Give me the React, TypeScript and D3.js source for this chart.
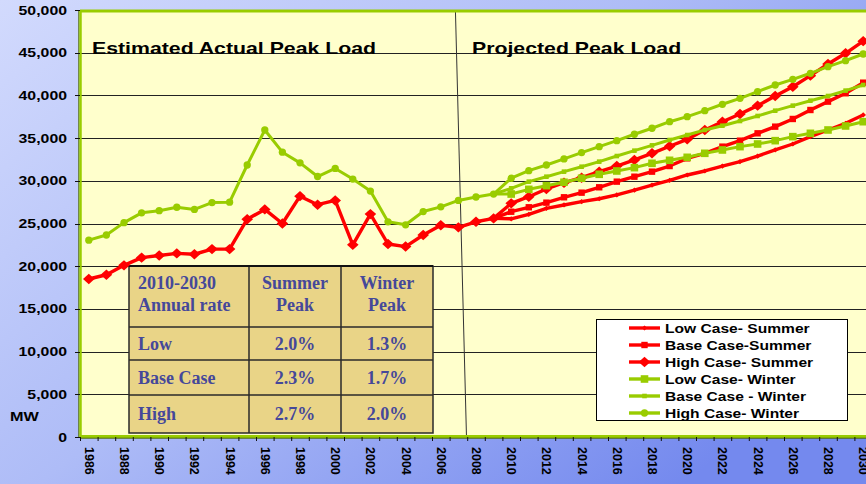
import React from 'react';
import * as d3 from 'd3';

const years = [1986, 1987, 1988, 1989, 1990, 1991, 1992, 1993, 1994, 1995, 1996, 1997, 1998, 1999, 2000, 2001, 2002, 2003, 2004, 2005, 2006, 2007, 2008, 2009, 2010, 2011, 2012, 2013, 2014, 2015, 2016, 2017, 2018, 2019, 2020, 2021, 2022, 2023, 2024, 2025, 2026, 2027, 2028, 2029, 2030];
const actualYears = [1986, 1987, 1988, 1989, 1990, 1991, 1992, 1993, 1994, 1995, 1996, 1997, 1998, 1999, 2000, 2001, 2002, 2003, 2004, 2005, 2006, 2007, 2008, 2009];
const projYears = [2010, 2011, 2012, 2013, 2014, 2015, 2016, 2017, 2018, 2019, 2020, 2021, 2022, 2023, 2024, 2025, 2026, 2027, 2028, 2029, 2030];
const labelYears = [1986, 1988, 1990, 1992, 1994, 1996, 1998, 2000, 2002, 2004, 2006, 2008, 2010, 2012, 2014, 2016, 2018, 2020, 2022, 2024, 2026, 2028, 2030];
const yTicks = [0, 5000, 10000, 15000, 20000, 25000, 30000, 35000, 40000, 45000, 50000];

const actualSummer = [18500, 19000, 20100, 21000, 21250, 21500, 21400, 22000, 22000, 25500, 26650, 25000, 28200, 27200, 27700, 22500, 26100, 22600, 22300, 23650, 24800, 24550, 25200, 25600];
const actualWinter = [23050, 23650, 25100, 26250, 26500, 26900, 26650, 27450, 27500, 31850, 35950, 33350, 32100, 30500, 31450, 30200, 28800, 25200, 24850, 26400, 26950, 27700, 28100, 28450];

const lowSummer = [25550, 26080, 26780, 27170, 27560, 27900, 28350, 28900, 29500, 30050, 30680, 31150, 31730, 32240, 32900, 33610, 34310, 35170, 35950, 36730, 37710];
const baseSummer = [26380, 26900, 27440, 28070, 28610, 29240, 29900, 30480, 31070, 31730, 32630, 33220, 34000, 34700, 35560, 36340, 37240, 38290, 39270, 40250, 41490];
const highSummer = [27360, 28140, 29040, 29780, 30360, 31070, 31730, 32440, 33220, 34050, 34860, 35950, 36920, 37820, 38800, 39930, 41020, 42310, 43680, 44930, 46350];
const lowWinter = [28450, 29000, 29430, 29830, 30300, 30760, 31150, 31540, 32050, 32400, 32750, 33220, 33610, 34000, 34310, 34700, 35170, 35560, 35950, 36420, 36920];
const baseWinter = [29120, 29900, 30480, 31070, 31650, 32240, 32900, 33530, 34150, 34780, 35360, 35950, 36450, 37000, 37590, 38210, 38800, 39380, 39930, 40560, 41220];
const highWinter = [30300, 31190, 31850, 32560, 33300, 34000, 34700, 35450, 36150, 36920, 37510, 38210, 38960, 39660, 40440, 41220, 41880, 42590, 43360, 44070, 44850];

const legendLabels = ['Low Case- Summer', 'Base Case-Summer', 'High Case- Summer', 'Low Case- Winter', 'Base Case - Winter', 'High Case- Winter'];

const tableHeader1 = ['2010-2030', 'Summer', 'Winter'];
const tableHeader2 = ['Annual rate', 'Peak', 'Peak'];
const tableCases = ['Low', 'Base Case', 'High'];
const summerRates = ['2.0%', '2.3%', '2.7%'];
const winterRates = ['1.3%', '1.7%', '2.0%'];

const dividerYears = [2006.83, 2007.46];

const RED = '#FF0000';
const GREEN = '#99CC00';
const SANS = '"Liberation Sans", Arial, sans-serif';
const SERIF = '"Liberation Serif", "Times New Roman", serif';
const TABLE_TEXT = '#45489A';

type Mk = 'bigDiamond' | 'smallDiamond' | 'square' | 'smallSquare' | 'bigSquare' | 'circle';

function markerPath(m: Mk): string {
  switch (m) {
    case 'bigDiamond': return 'M0,-5.2L5.8,0L0,5.2L-5.8,0Z';
    case 'smallDiamond': return 'M0,-2.6L2.8,0L0,2.6L-2.8,0Z';
    case 'square': return 'M-3.2,-3.2H3.2V3.2H-3.2Z';
    case 'smallSquare': return 'M-2.3,-2.3H2.3V2.3H-2.3Z';
    case 'bigSquare': return 'M-3.8,-3.8H3.8V3.8H-3.8Z';
    case 'circle': return d3.symbol().type(d3.symbolCircle).size(42)() as string;
  }
}

function SText({ x, y, sx = 1.3, size, anchor = 'start', children, weight = 'bold', family = SANS, fill = '#000' }: any) {
  return (
    <text transform={`translate(${x},${y}) scale(${sx},1)`} fontSize={size} fontWeight={weight} fontFamily={family} textAnchor={anchor} fill={fill}>
      {children}
    </text>
  );
}

export default function App() {
  const W = 866, H = 484;
  const left = 80, top = 10, bottom = 437, step = 17.6;
  const x = d3.scaleBand<number>().domain(years).range([left, left + years.length * step]).padding(0);
  const cx = (yr: number) => (x(yr) as number) + x.bandwidth() / 2;
  const xLin = d3.scaleLinear().domain([1986, 2030]).range([cx(1986), cx(2030)]);
  const y = d3.scaleLinear().domain([0, 50000]).range([bottom, top]);
  const fmt = d3.format(',');

  const line = d3.line<[number, number]>().x(d => cx(d[0])).y(d => y(d[1]));

  const lastA = actualYears.length - 1;
  const startS: [number, number] = [actualYears[lastA], actualSummer[lastA]];
  const startW: [number, number] = [actualYears[lastA], actualWinter[lastA]];

  const proj = (vals: number[]) => projYears.map((yr, i) => [yr, vals[i]] as [number, number]);

  const series = [
    { pts: [startS, ...proj(lowSummer)], color: RED, mk: 'smallDiamond' as Mk, width: 3.4, from: 1 },
    { pts: [startS, ...proj(baseSummer)], color: RED, mk: 'square' as Mk, width: 3.4, from: 1 },
    { pts: [...actualYears.map((yr, i) => [yr, actualSummer[i]] as [number, number]), ...proj(highSummer)], color: RED, mk: 'bigDiamond' as Mk, width: 3.4, from: 0 },
    { pts: [startW, ...proj(lowWinter)], color: GREEN, mk: 'bigSquare' as Mk, width: 3, from: 1 },
    { pts: [startW, ...proj(baseWinter)], color: GREEN, mk: 'smallSquare' as Mk, width: 3, from: 1 },
    { pts: [...actualYears.map((yr, i) => [yr, actualWinter[i]] as [number, number]), ...proj(highWinter)], color: GREEN, mk: 'circle' as Mk, width: 3, from: 0 },
  ];

  const legendMk: Mk[] = ['smallDiamond', 'square', 'bigDiamond', 'bigSquare', 'smallSquare', 'circle'];
  const legendColors = [RED, RED, RED, GREEN, GREEN, GREEN];

  // table layout
  const colX = [129, 249, 341, 433];
  const rowY = [266, 327, 360, 395, 433];

  return (
    <svg width={W} height={H} style={{ position: 'absolute', left: 0, top: 0, display: 'block' }}>
      <defs>
        <linearGradient id="bg" x1="0" y1="0" x2="1" y2="0.7">
          <stop offset="0" stopColor="#d2dafd" />
          <stop offset="0.5" stopColor="#aebcf7" />
          <stop offset="1" stopColor="#7489ee" />
        </linearGradient>
      </defs>
      <rect x={0} y={0} width={W} height={H} fill="url(#bg)" />
      <rect x={left} y={top} width={W - left} height={bottom - top} fill="#FFFFCC" />

      {/* gridlines */}
      {yTicks.filter(t => t > 0 && t < 50000).map(t => (
        <line key={t} x1={left} x2={W} y1={Math.round(y(t)) + 0.5} y2={Math.round(y(t)) + 0.5} stroke="#222" strokeWidth={1} />
      ))}

      {/* divider */}
      <line x1={xLin(dividerYears[0])} y1={top} x2={xLin(dividerYears[1])} y2={bottom} stroke="#333" strokeWidth={1} />

      {/* titles */}
      <SText x={92} y={53.5} size={16} sx={1.33}>Estimated Actual Peak Load</SText>
      <SText x={472} y={53.5} size={16} sx={1.33}>Projected Peak Load</SText>

      {/* table */}
      <g>
        <rect x={colX[0]} y={rowY[0]} width={colX[3] - colX[0]} height={rowY[4] - rowY[0]} fill="#E9D487" stroke="#2a2a2a" strokeWidth={1.5} />
        {colX.slice(1, 3).map(cxv => <line key={cxv} x1={cxv} x2={cxv} y1={rowY[0]} y2={rowY[4]} stroke="#2a2a2a" strokeWidth={1.5} />)}
        {rowY.slice(1, 4).map(ry => <line key={ry} x1={colX[0]} x2={colX[3]} y1={ry} y2={ry} stroke="#2a2a2a" strokeWidth={1.5} />)}
        <line x1={colX[0]} x2={colX[3]} y1={rowY[0]} y2={rowY[0]} stroke="#111" strokeWidth={2} />
        {[0, 1, 2].map(c => (
          <g key={c}>
            <SText x={c === 0 ? 138 : (colX[c] + colX[c + 1]) / 2} y={289} size={18} sx={1} family={SERIF} anchor={c === 0 ? 'start' : 'middle'} fill={TABLE_TEXT}>{tableHeader1[c]}</SText>
            <SText x={c === 0 ? 138 : (colX[c] + colX[c + 1]) / 2} y={311} size={18} sx={1} family={SERIF} anchor={c === 0 ? 'start' : 'middle'} fill={TABLE_TEXT}>{tableHeader2[c]}</SText>
          </g>
        ))}
        {tableCases.map((name, i) => {
          const by = (rowY[i + 1] + rowY[i + 2]) / 2 + 6;
          return (
            <g key={name}>
              <SText x={138} y={by} size={18} sx={1} family={SERIF} fill={TABLE_TEXT}>{name}</SText>
              <SText x={(colX[1] + colX[2]) / 2} y={by} size={18} sx={1} family={SERIF} anchor="middle" fill={TABLE_TEXT}>{summerRates[i]}</SText>
              <SText x={(colX[2] + colX[3]) / 2} y={by} size={18} sx={1} family={SERIF} anchor="middle" fill={TABLE_TEXT}>{winterRates[i]}</SText>
            </g>
          );
        })}
      </g>

      {/* series lines */}
      {series.map((s, i) => (
        <g key={i}>
          <path d={line(s.pts) as string} fill="none" stroke={s.color} strokeWidth={s.width} strokeLinejoin="round" />
          {s.pts.slice(s.from).map((p, j) => (
            <path key={j} d={markerPath(s.mk)} transform={`translate(${cx(p[0])},${y(p[1])})`} fill={s.color} />
          ))}
        </g>
      ))}

      {/* axes */}
      <line x1={left} x2={W} y1={top + 1} y2={top + 1} stroke={GREEN} strokeWidth={3} />
      <line x1={left - 1.2} x2={left - 1.2} y1={top} y2={bottom + 1} stroke="#4f6a00" strokeWidth={1} />
      <line x1={left + 0.5} x2={left + 0.5} y1={top} y2={bottom + 1} stroke={GREEN} strokeWidth={2.5} />
      <line x1={left} x2={W} y1={bottom - 0.5} y2={bottom - 0.5} stroke={GREEN} strokeWidth={3} />
      <line x1={left} x2={W} y1={bottom + 1.2} y2={bottom + 1.2} stroke="#4f6a00" strokeWidth={1} />

      {/* y ticks and labels */}
      {yTicks.map(t => (
        <g key={t}>
          <line x1={left - 5} x2={left} y1={Math.round(y(t)) + 0.5} y2={Math.round(y(t)) + 0.5} stroke="#111" strokeWidth={1} />
          <SText x={67} y={y(t) + 4.5} size={12} sx={1.32} anchor="end">{fmt(t)}</SText>
        </g>
      ))}
      <SText x={10} y={420.5} size={12.5} sx={1.3}>MW</SText>

      {/* x ticks */}
      {years.map(yr => (
        <line key={yr} x1={(x(yr) as number) + 0.5} x2={(x(yr) as number) + 0.5} y1={bottom} y2={bottom + 4} stroke="#111" strokeWidth={1} />
      ))}
      {labelYears.map(yr => (
        <text key={yr} transform={`translate(${cx(yr)},${bottom + 10}) rotate(90)`} fontSize={12.5} fontWeight="bold" fontFamily={SANS} dominantBaseline="central" fill="#000">{yr}</text>
      ))}

      {/* legend */}
      <rect x={596.5} y={319.5} width={251} height={101} fill="#fff" stroke="#000" strokeWidth={1} />
      {legendLabels.map((lab, i) => {
        const ly = 328 + i * 17;
        return (
          <g key={lab}>
            <line x1={629} x2={660} y1={ly} y2={ly} stroke={legendColors[i]} strokeWidth={3.4} />
            <path d={markerPath(legendMk[i])} transform={`translate(644.5,${ly})`} fill={legendColors[i]} />
            <SText x={665} y={ly + 4.5} size={12} sx={1.3}>{lab}</SText>
          </g>
        );
      })}
    </svg>
  );
}
